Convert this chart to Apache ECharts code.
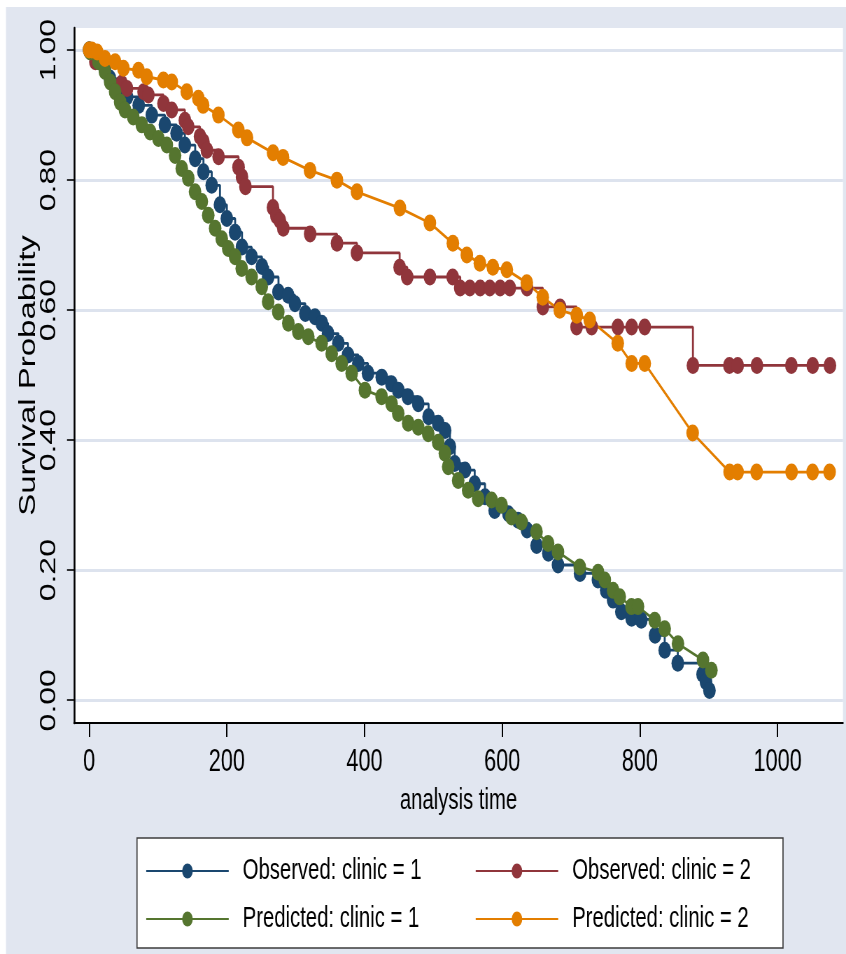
<!DOCTYPE html>
<html>
<head>
<meta charset="utf-8">
<script src="https://cdn.jsdelivr.net/npm/echarts@6/dist/echarts.min.js"></script>
<style>
html,body{margin:0;padding:0;background:#ffffff;overflow:hidden;width:846px;height:954px;}
#chart{width:1209px;height:954px;transform:scaleX(0.69975);transform-origin:0 0;}
</style>
</head>
<body>
<div id="chart"></div>
<script>
// ---- data (analysis time, survival probability) ----
const obs1Time = [0,13,23,30,38,45,55,72,91,110,
  127,139,154,166,178,190,200,212,222,236,
  251,260,275,289,299,314,328,338,347,362,
  376,391,405,425,439,449,463,478,493,507,
  517,524,531,546,560,575,589,609,623,636,
  650,667,681,713,739,751,761,773,788,802,
  822,836,855,891,896,901];
const obs1Surv = [1.000,0.984,0.970,0.957,0.945,0.936,0.928,0.915,0.900,0.885,
  0.872,0.854,0.833,0.813,0.792,0.762,0.741,0.720,0.697,0.682,
  0.667,0.651,0.628,0.623,0.610,0.595,0.590,0.580,0.564,0.549,
  0.531,0.518,0.503,0.497,0.487,0.477,0.467,0.456,0.436,0.426,
  0.415,0.390,0.364,0.354,0.333,0.313,0.292,0.287,0.277,0.262,
  0.238,0.226,0.208,0.195,0.185,0.169,0.154,0.136,0.126,0.123,
  0.100,0.077,0.057,0.040,0.028,0.015];

const obs2Time = [0,9,47,55,79,86,108,120,139,144,
  161,166,171,188,217,222,227,267,272,277,
  282,321,360,389,451,462,495,528,539,553,
  568,582,597,611,636,659,684,708,730,768,
  788,807,877,930,942,970,1020,1051,1076];
const obs2Surv = [1.000,0.982,0.949,0.941,0.936,0.931,0.918,0.908,0.892,0.882,
  0.867,0.859,0.846,0.836,0.820,0.805,0.790,0.758,0.745,0.738,
  0.726,0.717,0.703,0.688,0.666,0.651,0.651,0.651,0.634,0.634,
  0.634,0.634,0.634,0.634,0.634,0.605,0.605,0.574,0.574,0.574,
  0.574,0.574,0.515,0.515,0.515,0.515,0.515,0.515,0.515];

const pred1Time = [0,1.5,13.5,23,30.5,37.7,45,52,64,76.5,
  88.5,100.6,112.8,124.8,134.5,144,153.8,163.6,173,183,
  192.6,202,212,221.6,236,250.7,260,274.7,289.3,303.8,
  318.3,337.7,352.3,366.8,381.3,400.6,424.8,439.3,449,463.4,
  478,492.5,507,516.7,521.5,536,550.5,565,584.5,599,
  613.5,628,649.8,666.6,681,712.6,739.2,749,761,770.7,
  787.7,797.2,821.5,836,855.3,891.6,903.8];
const pred1Surv = [1.000,0.997,0.982,0.967,0.951,0.936,0.920,0.908,0.897,0.885,
  0.874,0.864,0.854,0.838,0.818,0.803,0.782,0.767,0.746,0.726,
  0.710,0.695,0.682,0.664,0.651,0.636,0.613,0.597,0.580,0.567,
  0.559,0.549,0.533,0.518,0.503,0.477,0.467,0.456,0.441,0.426,
  0.420,0.410,0.397,0.380,0.359,0.338,0.323,0.310,0.308,0.300,
  0.282,0.274,0.259,0.241,0.228,0.205,0.197,0.185,0.169,0.159,
  0.144,0.144,0.123,0.110,0.087,0.062,0.046];

const pred2Time = [0,4,11.6,23,37.7,49.8,71.6,83.7,107.8,120,
  141.8,158.6,165.5,187.7,216.7,229.3,267.1,281.6,320.8,359.9,
  389,451.4,494.9,528.3,548.6,567.5,586.4,606.7,635.7,658.9,
  683.6,708.3,727.1,767.8,788.1,807,876.6,930.3,941.9,969.5,
  1020.3,1050.8,1075.5];
const pred2Surv = [1.000,1.000,0.997,0.987,0.982,0.972,0.969,0.959,0.954,0.951,
  0.936,0.926,0.915,0.900,0.877,0.865,0.842,0.835,0.815,0.800,
  0.782,0.757,0.734,0.703,0.685,0.672,0.666,0.662,0.642,0.620,
  0.600,0.592,0.585,0.549,0.518,0.518,0.411,0.351,0.351,0.351,
  0.351,0.351,0.351];

const seriesNames = ['Observed: clinic = 1','Observed: clinic = 2','Predicted: clinic = 1','Predicted: clinic = 2'];
const xTickValues = [0,200,400,600,800,1000];
const xTickLabels = ['0','200','400','600','800','1000'];
const yTickValues = [0,0.2,0.4,0.6,0.8,1.0];
const yTickLabels = ['0.00','0.20','0.40','0.60','0.80','1.00'];
const xTitle = 'analysis time';
const yTitle = 'Survival Probability';

// ---- styles ----
const SX = 846/1209;            // horizontal squeeze of the page
const P = v => v / SX;           // final px -> pre-scale px (horizontal)
const colors = ['#1a476f','#90353b','#55752f','#e37e00'];
const FONT = '"Liberation Sans", Arial, Helvetica, sans-serif';

function pairs(t, s){ return t.map((v,i)=>[v, s[i]]); }
function lookup(vals, labels){
  return v => { const i = vals.findIndex(x => Math.abs(x - v) < 1e-9); return i >= 0 ? labels[i] : ''; };
}

function mkSeries(name, t, s, color, step){
  return {
    name: name, type: 'line', step: step ? 'end' : false,
    data: pairs(t, s),
    symbol: 'circle', symbolSize: [18, 17], showSymbol: true, showAllSymbol: true,
    itemStyle: {color: color, borderWidth: 0},
    lineStyle: {color: color, width: 2.8},
    emphasis: {disabled: true},
    clip: true, animation: false
  };
}

const chart = echarts.init(document.getElementById('chart'), null, {renderer: 'canvas'});
const option = {
  animation: false,
  backgroundColor: '#ffffff',
  textStyle: {fontFamily: FONT},
  graphic: [
    {type: 'rect', z: -10, silent: true,
     shape: {x: P(6), y: 7, width: 1209, height: 954},
     style: {fill: '#e1e6f0'}},
    {type: 'rect', z: 1, silent: true,
     shape: {x: P(137), y: 838, width: P(783) - P(137), height: 110},
     style: {fill: '#ffffff', stroke: '#3c3c3c', lineWidth: 1.6}}
  ],
  grid: {left: P(74), right: 1209 - P(843), top: 28, bottom: 954 - 723,
         show: true, backgroundColor: '#ffffff', borderWidth: 0},
  xAxis: {
    type: 'value', min: -22, max: 1095,
    name: xTitle, nameLocation: 'middle', nameGap: 63, nameMoveOverlap: false,
    nameTextStyle: {fontSize: 29, color: '#000', fontFamily: FONT},
    axisLine: {show: true, onZero: false, lineStyle: {color: '#000', width: 2}},
    axisTick: {show: true, customValues: xTickValues, length: 14, inside: false,
               lineStyle: {color: '#000', width: 2}},
    axisLabel: {customValues: xTickValues, margin: 24, fontSize: 31, color: '#000', fontFamily: FONT,
                formatter: lookup(xTickValues, xTickLabels)},
    splitLine: {show: false}
  },
  yAxis: {
    type: 'value', min: -0.035, max: 1.034,
    name: yTitle, nameLocation: 'middle', nameGap: 48, nameRotate: 90, nameMoveOverlap: false,
    nameTextStyle: {fontSize: 33, color: '#000', fontFamily: FONT},
    axisLine: {show: true, onZero: false, lineStyle: {color: '#000', width: 2.6}},
    axisTick: {show: true, customValues: yTickValues, length: 10,
               lineStyle: {color: '#000', width: 1.6}},
    axisLabel: {customValues: yTickValues, rotate: 90, margin: 20, fontSize: 32, color: '#000', fontFamily: FONT,
                formatter: lookup(yTickValues, yTickLabels)},
    splitLine: {show: true, lineStyle: {color: '#dde3ee', width: 3}}
  },
  legend: [
    {data: [seriesNames[0], seriesNames[2]], orient: 'vertical', left: P(145.5), top: 856,
     padding: 0, itemGap: 18, itemWidth: P(228) - P(145.5), itemHeight: 19,
     textStyle: {fontSize: 29, color: '#000', fontFamily: FONT, lineHeight: 30, padding: [0,0,0,15]},
     selectedMode: false},
    {data: [seriesNames[1], seriesNames[3]], orient: 'vertical', left: P(475), top: 856,
     padding: 0, itemGap: 18, itemWidth: P(228) - P(145.5), itemHeight: 19,
     textStyle: {fontSize: 29, color: '#000', fontFamily: FONT, lineHeight: 30, padding: [0,0,0,15]},
     selectedMode: false}
  ],
  series: [
    mkSeries(seriesNames[0], obs1Time, obs1Surv, colors[0], true),
    mkSeries(seriesNames[1], obs2Time, obs2Surv, colors[1], true),
    mkSeries(seriesNames[2], pred1Time, pred1Surv, colors[2], false),
    mkSeries(seriesNames[3], pred2Time, pred2Surv, colors[3], false)
  ]
};
chart.setOption(option);
</script>
</body>
</html>
